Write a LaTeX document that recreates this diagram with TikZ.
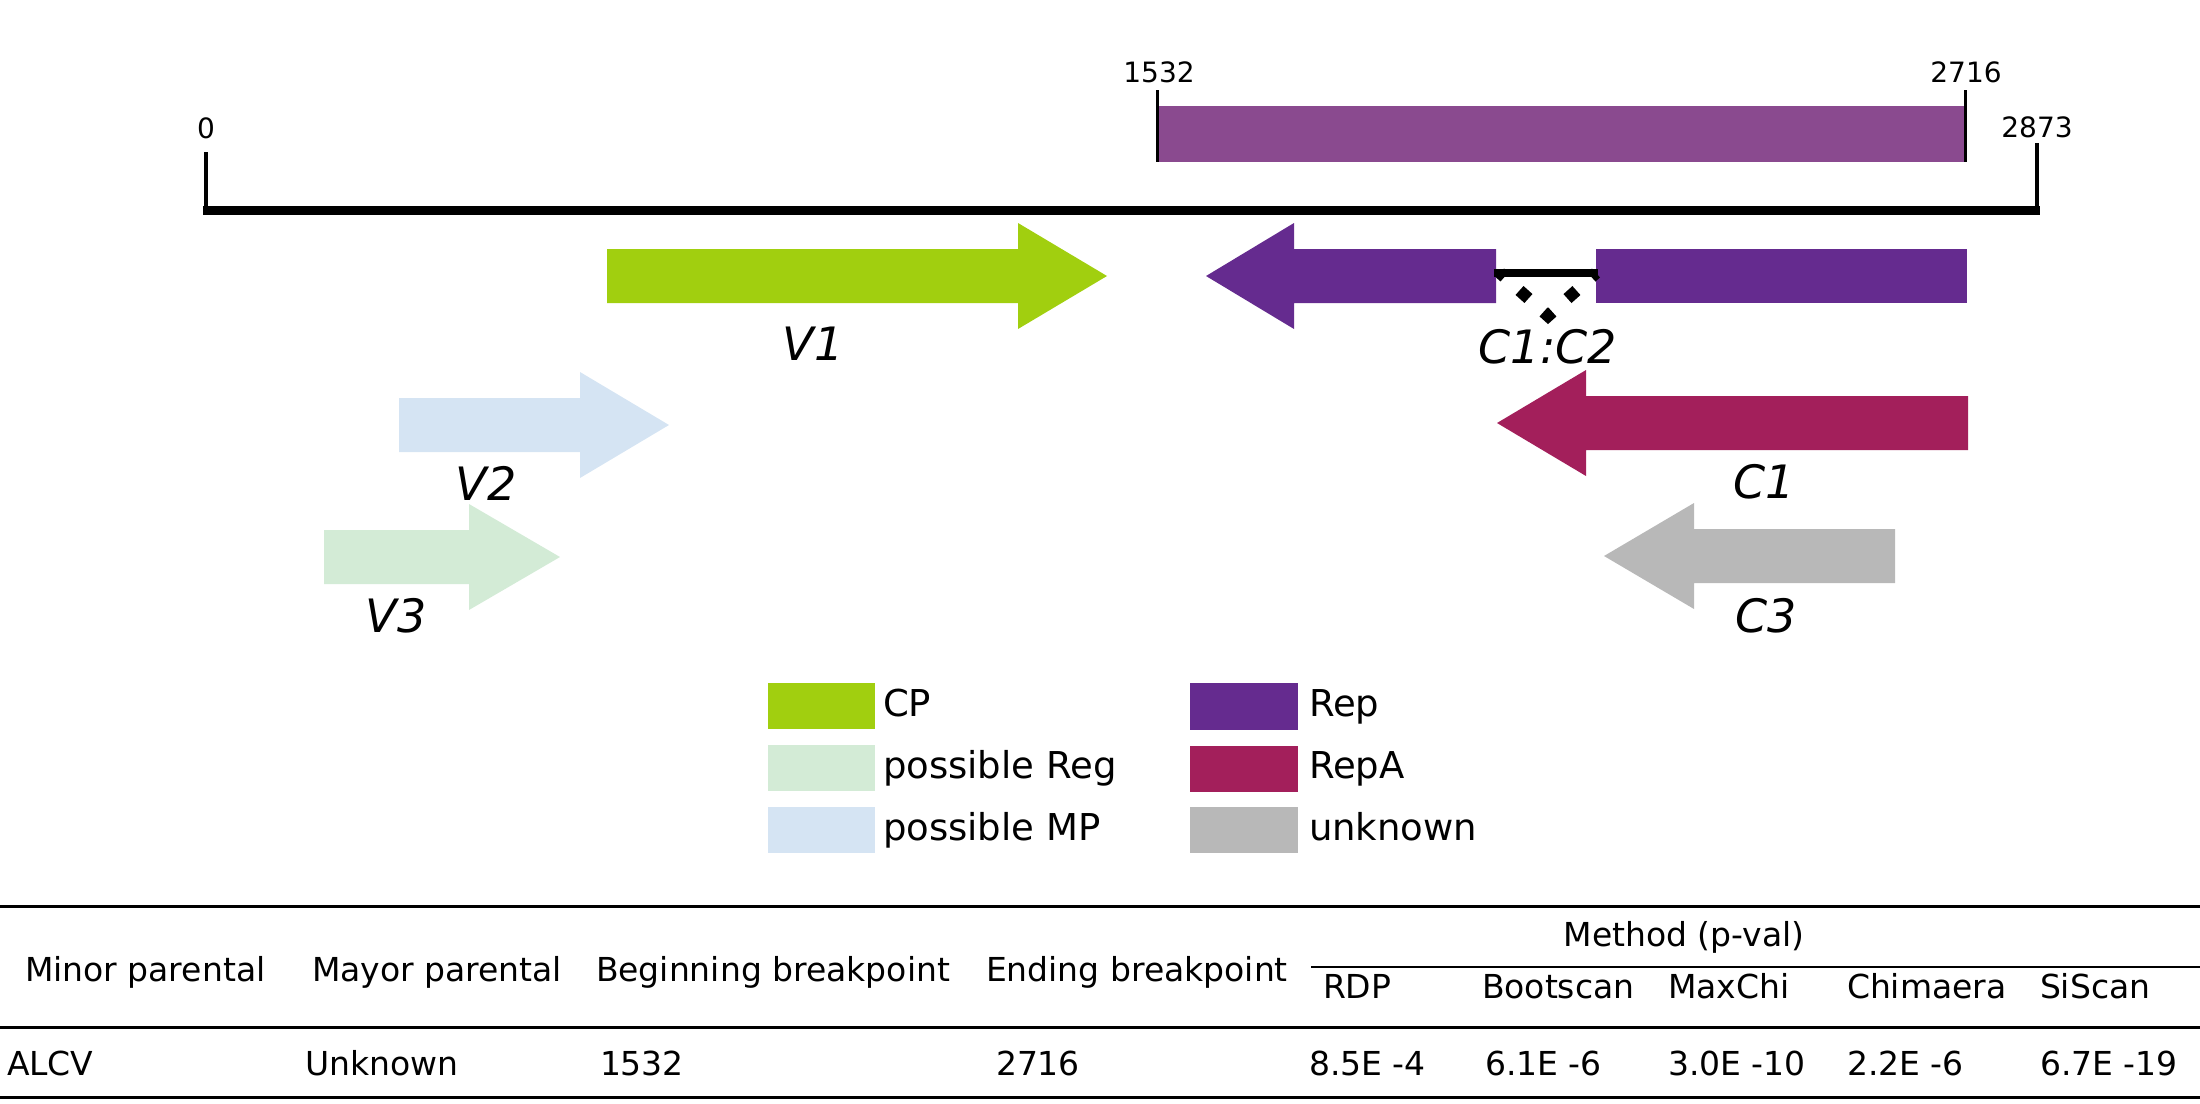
\documentclass[tikz,border=0pt]{standalone}
\usepackage{fontspec}
\setmainfont{DejaVu Sans}
\definecolor{cpgreen}{HTML}{A1CF0F}
\definecolor{regcol}{HTML}{D3EBD6}
\definecolor{mpcol}{HTML}{D5E4F3}
\definecolor{repcol}{HTML}{652B8F}
\definecolor{repacol}{HTML}{A31F5B}
\definecolor{unkcol}{HTML}{B8B8B8}
\definecolor{recbar}{HTML}{8A4A8F}
\newcommand\genearrow[5]{\fill[#1] (#2,#5-27) -- (#3,#5-27) -- (#3,#5-53) -- (#4,#5) -- (#3,#5+53) -- (#3,#5+27) -- (#2,#5+27) -- cycle;}
\begin{document}
\begin{tikzpicture}[x=1pt,y=-1pt,
  every node/.style={inner sep=0pt,outer sep=0pt},
  glabel/.style={font=\fontsize{46}{50}\selectfont\itshape, anchor=base},
  ticklbl/.style={font=\fontsize{28}{32}\selectfont, anchor=base},
  legtxt/.style={font=\fontsize{37}{42}\selectfont, anchor=base west},
  tabtxt/.style={font=\fontsize{33}{38}\selectfont, anchor=base west},
  tabrule/.style={line width=3pt},
  tickline/.style={line width=3.5pt}]
\useasboundingbox (0,0) rectangle (2200,1103);
% genome axis
\draw[line width=9pt] (203,210) -- (2040,210);
\draw[tickline] (206,152) -- (206,210);
\draw[tickline] (2037,143) -- (2037,210);
\node[ticklbl] (t0) at (206,138) {0};
\node[ticklbl] (t2873) at (2037,137) {2873};
% recombinant region
\fill[recbar] (1157,106) rectangle (1965,162);
\draw[line width=3pt] (1157,90) -- (1157,162);
\draw[line width=3pt] (1965,90) -- (1965,162);
\node[ticklbl] (t1532) at (1159,82) {1532};
\node[ticklbl] (t2716) at (1966,82) {2716};
% genes
\genearrow{cpgreen}{607}{1018}{1107}{276}
\genearrow{mpcol}{399}{580}{669}{425}
\genearrow{regcol}{324}{469}{560}{557}
\genearrow{repcol}{1496}{1294}{1206}{276}
\fill[repcol] (1596,249) rectangle (1967,303);
\genearrow{repacol}{1968}{1586}{1497}{423}
\genearrow{unkcol}{1895}{1694}{1604}{556}
% intron
\draw[line width=12pt, miter limit=10, dash pattern=on 12pt off 20.2pt, dash phase=6pt] (1500,273) -- (1548,316) -- (1596,273);
\draw[line width=8pt] (1494,273) -- (1598,273);
% gene labels
\node[glabel] (v1) at (813,360) {V1};
\node[glabel] (v2) at (486,500) {V2};
\node[glabel] (v3) at (396,632) {V3};
\node[glabel] (c12) at (1548,363) {C1:C2};
\node[glabel] (c1) at (1764,498) {C1};
\node[glabel] (c3) at (1766,632) {C3};
% legend
\fill[cpgreen] (768,683) rectangle (875,729);
\fill[regcol] (768,745) rectangle (875,791);
\fill[mpcol] (768,807) rectangle (875,853);
\fill[repcol] (1190,683) rectangle (1298,730);
\fill[repacol] (1190,746) rectangle (1298,792);
\fill[unkcol] (1190,807) rectangle (1298,853);
\node[legtxt] (lcp) at (883,716) {CP};
\node[legtxt] (lreg) at (883,778) {possible Reg};
\node[legtxt] (lmp) at (883,840) {possible MP};
\node[legtxt] (lrep) at (1309,716) {Rep};
\node[legtxt] (lrepa) at (1309,778) {RepA};
\node[legtxt] (lunk) at (1309,840) {unknown};
% table
\draw[tabrule] (0,906) -- (2200,906);
\draw[line width=2pt] (1311,967) -- (2200,967);
\draw[tabrule] (0,1027) -- (2200,1027);
\draw[tabrule] (0,1097) -- (2200,1097);
\node[tabtxt] (h1) at (25,981) {Minor parental};
\node[tabtxt] (h2) at (312,981) {Mayor parental};
\node[tabtxt] (h3) at (596,981) {Beginning breakpoint};
\node[tabtxt] (h4) at (986,981) {Ending breakpoint};
\node[tabtxt, anchor=base] (hm) at (1684,946) {Method (p-val)};
\node[tabtxt] (s1) at (1323,998) {RDP};
\node[tabtxt] (s2) at (1482,998) {Bootscan};
\node[tabtxt] (s3) at (1668,998) {MaxChi};
\node[tabtxt] (s4) at (1847,998) {Chimaera};
\node[tabtxt] (s5) at (2040,998) {SiScan};
\node[tabtxt] (d1) at (7,1075) {ALCV};
\node[tabtxt] (d2) at (305,1075) {Unknown};
\node[tabtxt] (d3) at (600,1075) {1532};
\node[tabtxt] (d4) at (996,1075) {2716};
\node[tabtxt] (d5) at (1309,1075) {8.5E -4};
\node[tabtxt] (d6) at (1485,1075) {6.1E -6};
\node[tabtxt] (d7) at (1668,1075) {3.0E -10};
\node[tabtxt] (d8) at (1847,1075) {2.2E -6};
\node[tabtxt] (d9) at (2040,1075) {6.7E -19};
\end{tikzpicture}
\end{document}
